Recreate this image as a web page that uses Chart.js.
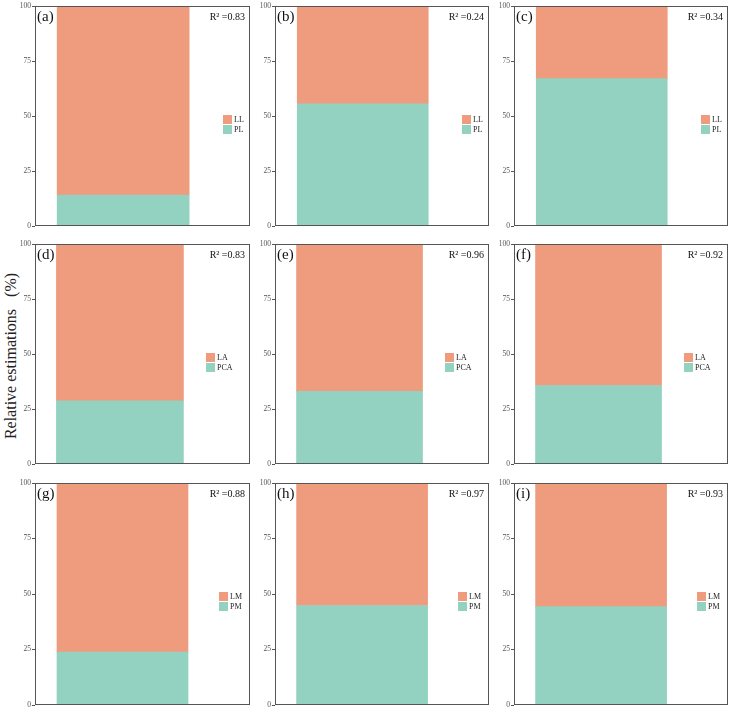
<!DOCTYPE html>
<html><head><meta charset="utf-8">
<script src="https://cdn.jsdelivr.net/npm/chart.js@4.4.0/dist/chart.umd.min.js"></script>
<style>
html,body{margin:0;padding:0;background:#fff;}
body{width:733px;height:710px;position:relative;overflow:hidden;}
canvas.pc{position:absolute;}
#ytitle{position:absolute;font-family:"Liberation Serif",serif;font-size:16px;color:#222;white-space:pre;transform:translate(-50%,-50%) rotate(-90deg);left:11px;top:356px;line-height:1;}
</style></head><body>
<div id="ytitle">Relative estimations   (%)</div>
<script>
// ---- data ----
const panelLetters = ['(a)','(b)','(c)','(d)','(e)','(f)','(g)','(h)','(i)'];
const r2Labels = ['0.83','0.24','0.34','0.83','0.96','0.92','0.88','0.97','0.93'];
const upperNames = ['LL','LL','LL','LA','LA','LA','LM','LM','LM'];
const lowerNames = ['PL','PL','PL','PCA','PCA','PCA','PM','PM','PM'];
const lowerValues = [14, 55.5, 67, 28.7, 33, 35.7, 23.8, 44.8, 44.3];
const upperValues = [86, 44.5, 33, 71.3, 67, 64.3, 76.2, 55.2, 55.7];
const yTicks = [0, 25, 50, 75, 100];

// ---- layout / style ----
const colLeft = [35, 275, 514], colRight = [250, 489, 728];
const rowTop = [6, 244, 483], rowBottom = [226, 464, 705];
const rowBarCenter = [0.41, 0.395, 0.407];
const rowBarWidth = [0.612, 0.59, 0.61];
const rowLegendRight = [27, 44, 31];
const ORANGE = '#EF9B7D', TEAL = '#93D1C1';
const SERIF = '"Liberation Serif", "Times New Roman", serif';

const panelDeco = {
  id: 'panelDeco',
  afterDatasetsDraw(chart) {
    const {ctx, chartArea: a} = chart;
    const o = chart.options.plugins.panelDeco;
    ctx.save();
    ctx.strokeStyle = '#555'; ctx.lineWidth = 1;
    ctx.strokeRect(Math.round(a.left) + 0.5, Math.round(a.top) + 0.5,
                   Math.round(a.right - a.left) - 1, Math.round(a.bottom - a.top) - 1);
    ctx.fillStyle = '#111';
    ctx.font = '15px ' + SERIF;
    ctx.textBaseline = 'middle'; ctx.textAlign = 'left';
    ctx.fillText(o.letter, a.left + 2, a.top + 11);
    ctx.font = '10px ' + SERIF;
    ctx.textAlign = 'right';
    ctx.fillText('R\u00B2 =' + o.r2, a.right - 5, a.top + 11);
    const ds = chart.data.datasets.slice().reverse();
    let y = a.top + o.legendTop;
    ds.forEach(d => {
      ctx.fillStyle = d.backgroundColor;
      ctx.fillRect(a.right - o.legendRight, y, 9, 9);
      ctx.fillStyle = '#222';
      ctx.font = '8px ' + SERIF;
      ctx.textAlign = 'left';
      ctx.fillText(d.label, a.right - o.legendRight + 11, y + 5);
      y += 10;
    });
    ctx.restore();
  }
};

for (let i = 0; i < 9; i++) {
  const r = Math.floor(i / 3), c = i % 3;
  const L = colLeft[c], R = colRight[c], T = rowTop[r], B = rowBottom[r];
  const cv = document.createElement('canvas');
  cv.className = 'pc';
  const w = R - L + 32 + 4, h = B - T + 12;
  cv.width = w; cv.height = h;
  cv.style.left = (L - 32) + 'px'; cv.style.top = (T - 6) + 'px';
  cv.style.width = w + 'px'; cv.style.height = h + 'px';
  document.body.appendChild(cv);
  const common = {borderWidth: 0, barThickness: Math.round(rowBarWidth[r] * (R - L))};
  new Chart(cv, {
    type: 'bar',
    data: {
      datasets: [
        Object.assign({label: lowerNames[i], data: [{x: rowBarCenter[r], y: lowerValues[i]}], backgroundColor: TEAL}, common),
        Object.assign({label: upperNames[i], data: [{x: rowBarCenter[r], y: upperValues[i]}], backgroundColor: ORANGE}, common)
      ]
    },
    options: {
      responsive: false, animation: false, devicePixelRatio: 1,
      layout: {padding: {left: 0, top: 6, right: 4, bottom: 6}},
      plugins: {
        legend: {display: false}, tooltip: {enabled: false},
        panelDeco: {letter: panelLetters[i], r2: r2Labels[i], legendTop: 109, legendRight: rowLegendRight[r]}
      },
      scales: {
        x: {type: 'linear', min: 0, max: 1, stacked: true, offset: false,
            ticks: {display: false, stepSize: 1}, grid: {display: false, offset: false}, border: {display: false},
            afterFit(s) { s.height = 0; }},
        y: {type: 'linear', min: yTicks[0], max: yTicks[yTicks.length - 1], stacked: true,
            afterBuildTicks(s) { s.ticks = yTicks.map(v => ({value: v})); },
            ticks: {font: {family: SERIF, size: 7.5}, color: '#555', padding: 1},
            grid: {drawOnChartArea: false, tickLength: 3, color: '#555'},
            border: {display: false},
            afterFit(s) { s.width = 32; }}
      }
    },
    plugins: [panelDeco]
  });
}
</script>
</body></html>
